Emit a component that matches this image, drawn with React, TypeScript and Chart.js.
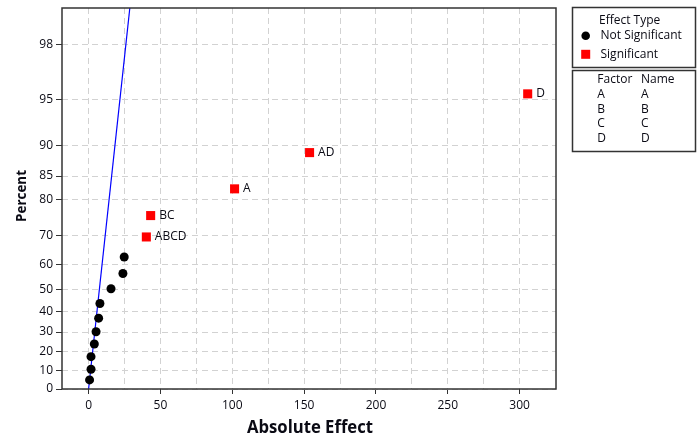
import React, { useEffect, useRef } from "react";
import { Chart, registerables } from "chart.js";

Chart.register(...registerables);

// ---- data ----
const notSigEffects = [0.7, 1.7, 1.7, 4.0, 5.2, 7.0, 7.9, 15.6, 23.9, 24.8];
const notSigPercents = [4.9, 10.6, 17.3, 23.9, 30.1, 36.8, 43.7, 50.2, 56.5, 62.8];
const sigTerms = ["ABCD", "BC", "A", "AD", "D"];
const sigEffects = [40.2, 43.2, 101.6, 153.8, 305.6];
const sigPercents = [69.6, 75.9, 82.4, 89.0, 95.4];
const refLineEffects = [0, 28.7];
const refLinePercents = [0, 99.0];
const yTickPercents = [0, 10, 20, 30, 40, 50, 60, 70, 80, 85, 90, 95, 98];
const xTickValues = [0, 25, 50, 75, 100, 125, 150, 175, 200, 225, 250, 275, 300];
const xMin = -18.5;
const xMax = 325.3;
const yMaxPercent = 99.0;
const factors = ["A", "B", "C", "D"];
const names = ["A", "B", "C", "D"];

// inverse standard normal (Acklam)
function normInv(p: number): number {
  const a = [-3.969683028665376e1, 2.209460984245205e2, -2.759285104469687e2, 1.38357751867269e2, -3.066479806614716e1, 2.506628277459239];
  const b = [-5.447609879822406e1, 1.615858368580409e2, -1.556989798598866e2, 6.680131188771972e1, -1.328068155833972e1];
  const c = [-7.784894002430293e-3, -3.223964580411365e-1, -2.400758277161838, -2.549732539343734, 4.374664141464968, 2.938163982698783];
  const d = [7.784695709041462e-3, 3.224671290700398e-1, 2.445134137142996, 3.754408661907416];
  const pl = 0.02425, ph = 1 - pl;
  if (p < pl) {
    const q = Math.sqrt(-2 * Math.log(p));
    return (((((c[0] * q + c[1]) * q + c[2]) * q + c[3]) * q + c[4]) * q + c[5]) / ((((d[0] * q + d[1]) * q + d[2]) * q + d[3]) * q + 1);
  }
  if (p <= ph) {
    const q = p - 0.5, r = q * q;
    return ((((((a[0] * r + a[1]) * r + a[2]) * r + a[3]) * r + a[4]) * r + a[5]) * q) / (((((b[0] * r + b[1]) * r + b[2]) * r + b[3]) * r + b[4]) * r + 1);
  }
  const q = Math.sqrt(-2 * Math.log(1 - p));
  return -(((((c[0] * q + c[1]) * q + c[2]) * q + c[3]) * q + c[4]) * q + c[5]) / ((((d[0] * q + d[1]) * q + d[2]) * q + d[3]) * q + 1);
}
// half-normal probability scale
const halfZ = (pct: number) => (pct <= 0 ? 0 : normInv(0.5 + pct / 200));

const FONT = "'Open Sans', 'DejaVu Sans', sans-serif";
const TEXT = "#0a0a14";

const overlayPlugin = {
  id: "overlay",
  afterDatasetsDraw(chart: any) {
    const ctx = chart.ctx;
    const meta = chart.getDatasetMeta(1);
    ctx.save();
    ctx.font = `12px ${FONT}`;
    ctx.fillStyle = TEXT;
    ctx.textAlign = "left";
    ctx.textBaseline = "middle";
    meta.data.forEach((el: any, i: number) => {
      ctx.fillText(sigTerms[i], el.x + 8.5, el.y);
    });
    ctx.restore();
  },
  afterDraw(chart: any) {
    const ctx = chart.ctx;
    const a = chart.chartArea;
    ctx.save();
    // frame
    ctx.strokeStyle = "#333333";
    ctx.lineWidth = 1.5;
    ctx.strokeRect(a.left, a.top, a.right - a.left, a.bottom - a.top);

    // axis titles
    ctx.fillStyle = TEXT;
    ctx.font = `bold 17px ${FONT}`;
    ctx.textAlign = "center";
    ctx.textBaseline = "middle";
    ctx.fillText("Absolute Effect", (a.left + a.right) / 2 + 1, 428, 126);
    ctx.save();
    ctx.translate(22, 196);
    ctx.rotate(-Math.PI / 2);
    ctx.font = `bold 15px ${FONT}`;
    ctx.fillText("Percent", 0, 0, 52);
    ctx.restore();

    // legend boxes
    ctx.strokeStyle = "#333333";
    ctx.lineWidth = 1.5;
    ctx.strokeRect(572.5, 7.5, 123, 60);
    ctx.strokeRect(572.5, 70.5, 123, 81);

    ctx.font = `12px ${FONT}`;
    ctx.textAlign = "left";
    ctx.fillStyle = TEXT;
    ctx.fillText("Effect Type", 599, 21);
    ctx.fillText("Not Significant", 600.5, 36);
    ctx.fillText("Significant", 600.5, 54.5);
    ctx.fillStyle = "#000";
    ctx.beginPath();
    ctx.arc(585.7, 35.7, 4.3, 0, Math.PI * 2);
    ctx.fill();
    ctx.fillStyle = "#ff0000";
    ctx.fillRect(581.2, 49.8, 9, 9);

    ctx.fillStyle = TEXT;
    ctx.fillText("Factor", 597.3, 80);
    ctx.fillText("Name", 641, 80);
    const rows = [95, 109.5, 124, 139];
    factors.forEach((f, i) => {
      ctx.fillText(f, 597.3, rows[i]);
      ctx.fillText(names[i], 641, rows[i]);
    });
    ctx.restore();
  },
};

export default function App() {
  const ref = useRef<HTMLCanvasElement | null>(null);
  useEffect(() => {
    if (!ref.current) return;
    const chart = new Chart(ref.current, {
      type: "scatter",
      data: {
        datasets: [
          {
            label: "Not Significant",
            data: notSigEffects.map((x, i) => ({ x, y: halfZ(notSigPercents[i]) })),
            pointStyle: "circle",
            pointRadius: 4.5,
            pointBorderWidth: 0,
            pointBackgroundColor: "#000000",
            pointBorderColor: "#000000",
          },
          {
            label: "Significant",
            data: sigEffects.map((x, i) => ({ x, y: halfZ(sigPercents[i]) })),
            pointStyle: "rect",
            pointRadius: 6.4,
            pointBorderWidth: 0,
            pointBackgroundColor: "#ff0000",
            pointBorderColor: "#ff0000",
          },
          {
            label: "fit",
            type: "line",
            data: refLineEffects.map((x, i) => ({ x, y: halfZ(refLinePercents[i]) })),
            borderColor: "#0000ff",
            borderWidth: 1.2,
            pointRadius: 0,
            showLine: true,
            fill: false,
          } as any,
        ],
      },
      options: {
        responsive: false,
        maintainAspectRatio: false,
        animation: false,
        layout: { padding: { left: 0, right: 142, top: 8, bottom: 0 } },
        plugins: { legend: { display: false }, tooltip: { enabled: false } },
        scales: {
          x: {
            type: "linear",
            min: xMin,
            max: xMax,
            afterBuildTicks: (s: any) => {
              s.ticks = xTickValues.map((v) => ({ value: v }));
            },
            afterFit: (s: any) => {
              s.height = 52;
              s.paddingLeft = 0;
              s.paddingRight = 0;
            },
            ticks: {
              autoSkip: false,
              maxRotation: 0,
              padding: 4,
              color: TEXT,
              font: { family: FONT, size: 12 },
              callback: (v: any) => (Number(v) % 50 === 0 ? String(v) : ""),
            },
            grid: {
              color: "#d2d2d2",
              lineWidth: 1,
              drawTicks: true,
              tickLength: 5,
              tickColor: (c: any) => (c.tick && c.tick.value % 50 === 0 ? "#333333" : "rgba(0,0,0,0)"),
            },
            border: { display: false, dash: [6, 4] },
          },
          y: {
            type: "linear",
            min: 0,
            max: halfZ(yMaxPercent),
            afterBuildTicks: (s: any) => {
              s.ticks = yTickPercents.map((p) => ({ value: halfZ(p) }));
            },
            afterFit: (s: any) => {
              s.width = 62;
              s.paddingTop = 0;
              s.paddingBottom = 0;
            },
            ticks: {
              autoSkip: false,
              padding: 3,
              color: TEXT,
              font: { family: FONT, size: 12 },
              callback: (_v: any, i: number) => String(yTickPercents[i]),
            },
            grid: {
              color: "#d2d2d2",
              lineWidth: 1,
              drawTicks: true,
              tickLength: 6,
              tickColor: "#333333",
            },
            border: { display: false, dash: [6, 4] },
          },
        },
      },
      plugins: [overlayPlugin],
    });
    return () => chart.destroy();
  }, []);
  return (
    <div style={{ position: "absolute", left: 0, top: 0, width: 698, height: 441, background: "#fff" }}>
      <canvas ref={ref} width={698} height={441} style={{ display: "block" }} />
    </div>
  );
}
